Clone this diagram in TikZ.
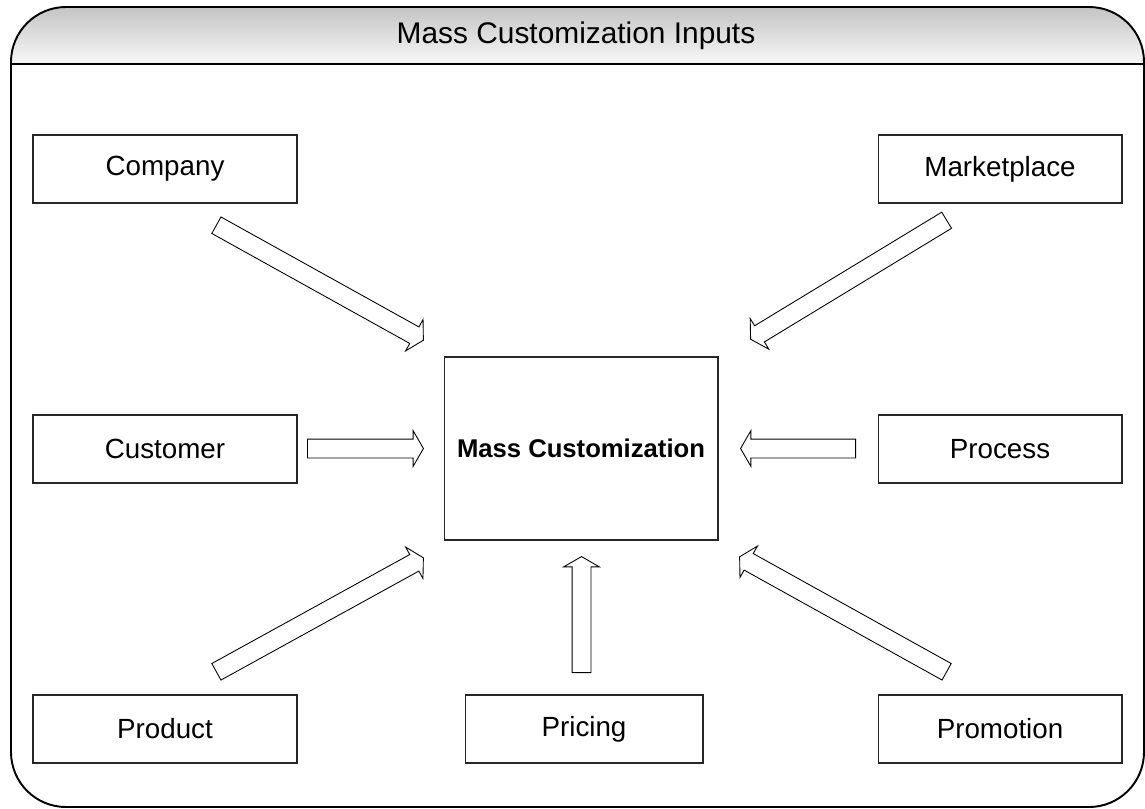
\documentclass[tikz,border=0pt]{standalone}
\usepackage{fontspec}
\setmainfont{Liberation Sans}
\usetikzlibrary{shapes.arrows, calc}
\definecolor{bandtop}{RGB}{196,196,196}
\definecolor{bandbot}{RGB}{248,248,248}
\tikzset{
  inputbox/.style={draw=black!85, line width=0.6pt, minimum width=5.28cm,
    minimum height=1.36cm, font=\fontsize{15.8}{18}\selectfont},
  widebox/.style={inputbox, minimum width=4.88cm},
  corebox/.style={draw=black!85, line width=0.6pt, minimum width=5.48cm,
    minimum height=3.66cm, font=\fontsize{14.6}{17}\selectfont\bfseries},
  blockarrow/.style={single arrow, draw=black, line width=0.5pt, fill=white,
    inner sep=0pt, text height=0.36cm, text depth=0pt, minimum width=0.7cm,
    single arrow head extend=0.17cm, single arrow tip angle=120}
}
% hollow block arrow from one named point to another
\newcommand{\feedarrow}[2]{%
  \path let \p1=($(#2)-(#1)$), \n1={veclen(\x1,\y1)}, \n2={atan2(\y1,\x1)} in
    (#1) node[blockarrow, minimum height=\n1, rotate=\n2, anchor=tail] {};}

\begin{document}
\begin{tikzpicture}[x=0.02cm, y=-0.02cm]
    \useasboundingbox (0,0) rectangle (1145,808);
    % title band
    \begin{scope}
      \clip[rounded corners=1.1cm] (11,7) rectangle (1144,807);
      \shade[top color=bandtop, bottom color=bandbot] (11,7) rectangle (1144,64);
    \end{scope}
    \draw[line width=1.1pt, rounded corners=1.1cm] (11,7) rectangle (1144,807);
    \draw[line width=1.4pt] (11,64) -- (1144,64);
    \node[font=\fontsize{17}{20}\selectfont] (title) at (576,36) {Mass Customization Inputs};

    % boxes
    \node[corebox] (mc) at (581,448.5) {Mass Customization};
    \node[inputbox] (company) at (165,169) {Company};
    \node[inputbox] (customer) at (165,449) {Customer};
    \node[inputbox] (product) at (165,729) {Product};
    \node[widebox, minimum width=4.76cm] (pricing) at (584,729) {Pricing};
    \node[widebox] (marketplace) at (1000,169) {Marketplace};
    \node[widebox] (process) at (1000,449) {Process};
    \node[widebox] (promotion) at (1000,729) {Promotion};

    % arrow ends
    \coordinate (company-out) at (216,225);
    \coordinate (company-in) at (423,340);
    \coordinate (marketplace-out) at (947,220);
    \coordinate (marketplace-in) at (751,339);
    \coordinate (customer-out) at (307,448.5);
    \coordinate (customer-in) at (423,448.5);
    \coordinate (process-out) at (856,448.5);
    \coordinate (process-in) at (741,448.5);
    \coordinate (product-out) at (216,672);
    \coordinate (product-in) at (423,558);
    \coordinate (pricing-out) at (581.5,673);
    \coordinate (pricing-in) at (581.5,557);
    \coordinate (promotion-out) at (947,672);
    \coordinate (promotion-in) at (740,557);

    \foreach \src in {company, marketplace, customer, process, product, pricing, promotion}
      \feedarrow{\src-out}{\src-in};
\end{tikzpicture}
\end{document}
